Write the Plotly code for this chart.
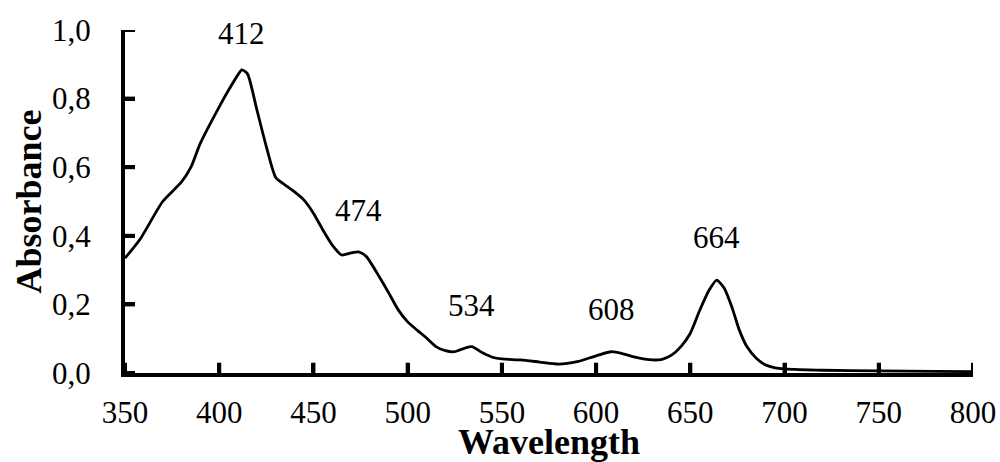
import plotly.graph_objects as go

# Spectrum
wavelength = [350, 358, 370, 380, 385, 390, 400, 405, 410, 412, 415, 420, 425, 430, 435,
              440, 445, 450, 455, 460, 465, 470, 474, 478, 485, 490, 495, 500, 505, 510,
              515, 520, 525, 530, 534, 540, 545, 550, 560, 570, 580, 590, 600, 608, 615,
              620, 630, 635, 640, 645, 650, 655, 660, 664, 668, 672, 676, 680, 685, 690,
              695, 700, 720, 750, 780, 800]
absorbance = [0.335, 0.39, 0.50, 0.557, 0.60, 0.67, 0.776, 0.825, 0.870, 0.884, 0.872, 0.767,
              0.66, 0.57, 0.548, 0.528, 0.504, 0.466, 0.417, 0.373, 0.344, 0.35, 0.353, 0.34,
              0.28, 0.233, 0.184, 0.149, 0.125, 0.102, 0.077, 0.065, 0.062, 0.072, 0.077,
              0.058, 0.046, 0.041, 0.038, 0.032, 0.026, 0.033, 0.050, 0.062, 0.055, 0.047,
              0.038, 0.04, 0.052, 0.077, 0.116, 0.183, 0.242, 0.271, 0.247, 0.193, 0.125,
              0.077, 0.043, 0.023, 0.015, 0.012, 0.008, 0.006, 0.005, 0.004]

peak_labels = ["412", "474", "534", "608", "664"]
peak_x = [412, 474, 534, 608, 664]
peak_label_y = [0.99, 0.475, 0.198, 0.184, 0.394]

x_ticks = [350, 400, 450, 500, 550, 600, 650, 700, 750, 800]
y_ticks = [0.0, 0.2, 0.4, 0.6, 0.8, 1.0]

FONT = "Liberation Serif"
X_MIN, X_MAX = 350, 800
Y_MIN, Y_MAX = 0, 1
TICK_FRAC = 0.03  # tick length as a fraction of the axis span

fig = go.Figure()
fig.add_trace(go.Scatter(x=wavelength, y=absorbance, mode="lines",
                         line=dict(color="black", width=2.8, shape="spline", smoothing=0.6),
                         showlegend=False, hoverinfo="skip"))

# inside tick marks drawn through the axes' scales
xt_x, xt_y = [], []
for v in x_ticks:
    xt_x += [v, v, None]
    xt_y += [Y_MIN, Y_MIN + TICK_FRAC * (Y_MAX - Y_MIN), None]
yt_x, yt_y = [], []
x_len = 10 / 848 * (X_MAX - X_MIN)
for v in y_ticks:
    yt_x += [X_MIN, X_MIN + x_len, None]
    yt_y += [v, v, None]
fig.add_trace(go.Scatter(x=xt_x, y=xt_y, mode="lines", line=dict(color="black", width=4),
                         showlegend=False, hoverinfo="skip", cliponaxis=False))
fig.add_trace(go.Scatter(x=yt_x, y=yt_y, mode="lines", line=dict(color="black", width=4),
                         showlegend=False, hoverinfo="skip", cliponaxis=False))

for t, x, y in zip(peak_labels, peak_x, peak_label_y):
    fig.add_annotation(x=x, y=y, xref="x", yref="y", text=t, showarrow=False,
                       font=dict(family=FONT, size=31, color="black"),
                       xanchor="center", yanchor="middle")

fig.add_annotation(x=0.5, y=0, xref="paper", yref="paper", text="<b>Wavelength</b>",
                   showarrow=False, font=dict(family=FONT, size=36, color="black"),
                   xanchor="center", yanchor="middle", yshift=-69)
fig.add_annotation(x=0, y=0.5, xref="paper", yref="paper", text="<b>Absorbance</b>",
                   showarrow=False, textangle=-90, font=dict(family=FONT, size=36, color="black"),
                   xanchor="center", yanchor="middle", xshift=-97)

fig.update_layout(
    width=1000, height=462,
    margin=dict(l=125, r=27, t=30, b=89, autoexpand=False),
    paper_bgcolor="white", plot_bgcolor="white",
    separators=", ",
    font=dict(family=FONT, size=31, color="black"),
    showlegend=False,
)
fig.update_xaxes(range=[X_MIN, X_MAX], tickvals=x_ticks, ticks="inside", ticklen=10, tickwidth=4,
                 tickcolor="black", showline=True, linecolor="black", linewidth=4,
                 showgrid=False, zeroline=False, automargin=False, ticklabelstandoff=9,
                 tickfont=dict(family=FONT, size=31, color="black"))
fig.update_yaxes(range=[Y_MIN, Y_MAX], tickvals=y_ticks, tickformat=".1f", ticks="inside",
                 ticklen=10, tickwidth=4, tickcolor="black", showline=True, linecolor="black",
                 linewidth=4, showgrid=False, zeroline=False, ticklabelstandoff=24,
                 automargin=False,
                 tickfont=dict(family=FONT, size=31, color="black"))

fig.write_html("out.html", config={"displayModeBar": False},
               post_script="document.body.style.margin='0';document.body.style.padding='0';")
